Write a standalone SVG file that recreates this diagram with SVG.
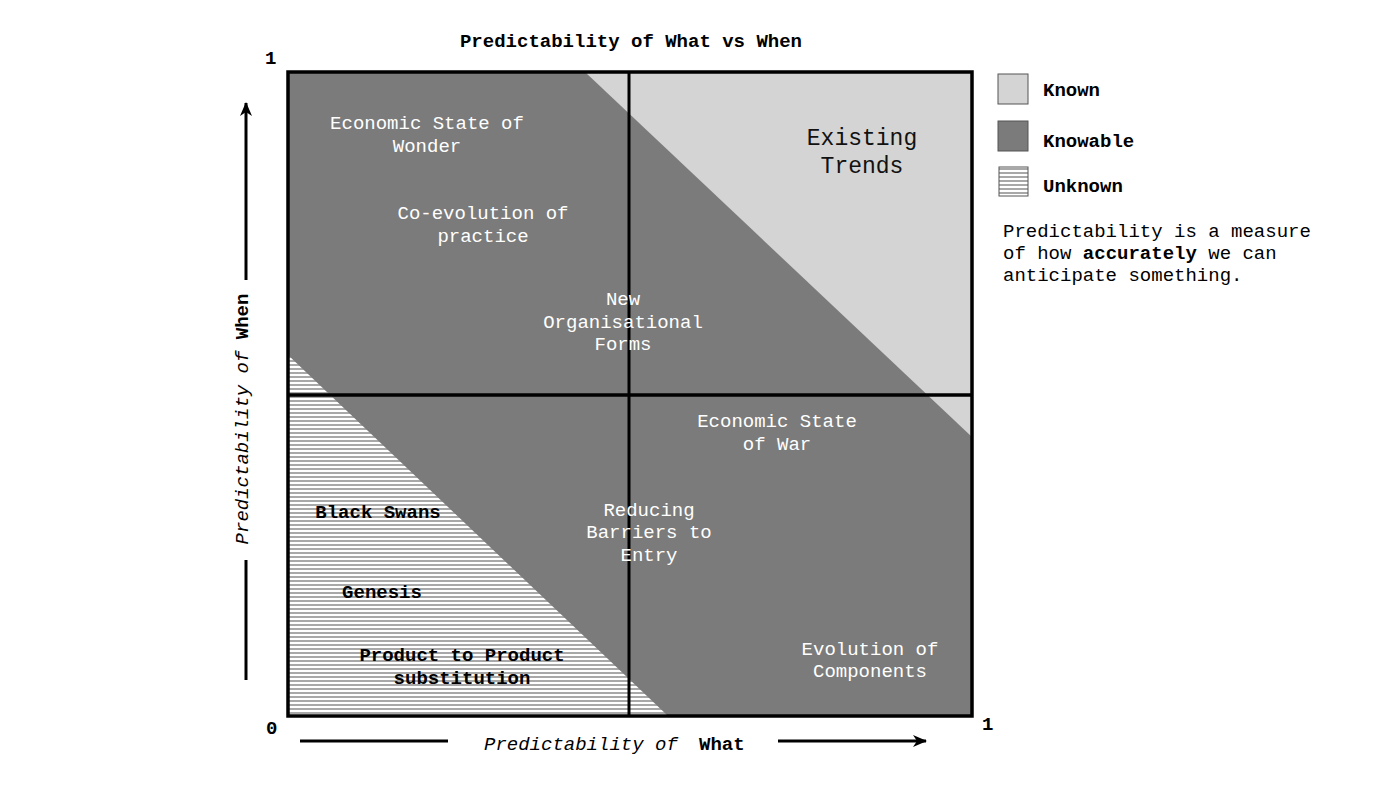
<svg xmlns="http://www.w3.org/2000/svg" width="1400" height="788" viewBox="0 0 1400 788">
<style>
text{font-family:"Liberation Mono","Courier New",monospace;font-size:19px}
.w{fill:#fff}
.b{fill:#000;font-weight:bold}
.c{text-anchor:middle}
.known{fill:#d4d4d4}
.knowable{fill:#7b7b7b}
.unknown{fill:url(#hatch)}
.frame{fill:none;stroke:#000;stroke-width:3.5}
.axis{stroke:#000;stroke-width:3;fill:none}
</style>
<defs>
<pattern id="hatch" patternUnits="userSpaceOnUse" width="8" height="4">
<rect width="8" height="4" fill="#fff"/>
<rect y="0" width="8" height="2" fill="#a8a8a8"/>
</pattern>
<marker id="arr" viewBox="0 0 14 12" refX="13" refY="6" markerWidth="14" markerHeight="12" orient="auto" markerUnits="userSpaceOnUse">
<path d="M0,0 L14,6 L0,12 L4,6 Z" fill="#000"/>
</marker>
</defs>
<rect width="1400" height="788" fill="#fff"/>
<text class="b c" x="631" y="47">Predictability of What vs When</text>
<g id="regions">
<rect class="knowable" x="288" y="72" width="684" height="644"/>
<polygon class="known" points="585,72 972,72 972,437"/>
<polygon class="unknown" points="288,355 288,716 668,716"/>
<line x1="629" y1="72" x2="629" y2="716" stroke="#000" stroke-width="3"/>
<line x1="288" y1="395" x2="972" y2="395" stroke="#000" stroke-width="3.5"/>
<rect class="frame" x="288" y="72" width="684" height="644"/>
</g>
<g id="node-wonder"><text class="w c" x="427" y="129">Economic State of</text><text class="w c" x="427" y="152">Wonder</text></g>
<g id="node-coevolution"><text class="w c" x="483" y="219">Co-evolution of</text><text class="w c" x="483" y="242">practice</text></g>
<g id="node-neworg"><text class="w c" x="623" y="305">New</text><text class="w c" x="623" y="328">Organisational</text><text class="w c" x="623" y="350">Forms</text></g>
<g id="node-trends"><text class="c" x="862" y="145" style="font-size:23px;fill:#111">Existing</text><text class="c" x="862" y="173" style="font-size:23px;fill:#111">Trends</text></g>
<g id="node-war"><text class="w c" x="777" y="427">Economic State</text><text class="w c" x="777" y="450">of War</text></g>
<g id="node-barriers"><text class="w c" x="649" y="516">Reducing</text><text class="w c" x="649" y="538">Barriers to</text><text class="w c" x="649" y="561">Entry</text></g>
<g id="node-components"><text class="w c" x="870" y="655">Evolution of</text><text class="w c" x="870" y="677">Components</text></g>
<g id="node-blackswans"><text class="b c" x="378" y="518">Black Swans</text></g>
<g id="node-genesis"><text class="b c" x="382" y="598">Genesis</text></g>
<g id="node-p2p"><text class="b c" x="462" y="661">Product to Product</text><text class="b c" x="462" y="684">substitution</text></g>
<g id="legend">
<rect x="998" y="74" width="30" height="30" class="known" stroke="#555" stroke-width="1"/>
<text class="b" x="1043" y="96">Known</text>
<rect x="998" y="121" width="30" height="30" class="knowable" stroke="#555" stroke-width="1"/>
<text class="b" x="1043" y="147">Knowable</text>
<rect x="999" y="167" width="29" height="29" class="unknown" stroke="#555" stroke-width="1"/>
<text class="b" x="1043" y="192">Unknown</text>
<text x="1003" y="237">Predictability is a measure</text>
<text x="1003" y="259">of how <tspan font-weight="bold">accurately</tspan> we can</text>
<text x="1003" y="281">anticipate something.</text>
</g>
<g id="connectors">
<line class="axis" x1="300" y1="741" x2="448" y2="741"/>
<line class="axis" x1="778" y1="741" x2="926" y2="741" marker-end="url(#arr)"/>
<line class="axis" x1="246" y1="680" x2="246" y2="560"/>
<line class="axis" x1="246" y1="280" x2="246" y2="103" marker-end="url(#arr)"/>
</g>
<g id="axis-labels">
<text x="484" y="750"><tspan font-style="italic">Predictability of</tspan><tspan x="699" font-weight="bold">What</tspan></text>
<text transform="translate(248,419) rotate(-90)" class="c"><tspan font-style="italic">Predictability of</tspan> <tspan font-weight="bold">When</tspan></text>
<text class="b" x="265" y="64">1</text>
<text class="b" x="266" y="734">0</text>
<text class="b" x="982" y="730">1</text>
</g>
</svg>
